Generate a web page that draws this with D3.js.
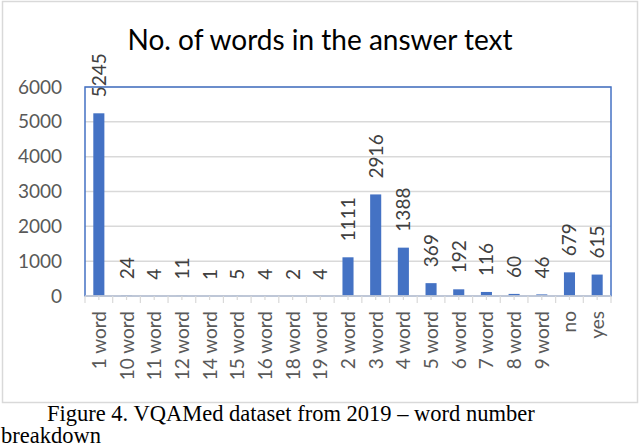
<!DOCTYPE html>
<html>
<head>
<meta charset="utf-8">
<script src="https://d3js.org/d3.v7.min.js"></script>
<style>
  body { margin: 0; background: #fff; }
  text { font-family: Lato, "Open Sans", sans-serif; }
  text.cap { font-family: "Liberation Serif", "Times New Roman", serif; }
</style>
</head>
<body>
<div id="my_dataviz"></div>
<script>
// chart data
var categories = ["1 word", "10 word", "11 word", "12 word", "14 word", "15 word", "16 word",
                  "18 word", "19 word", "2 word", "3 word", "4 word", "5 word", "6 word",
                  "7 word", "8 word", "9 word", "no", "yes"];
var counts = [5245, 24, 4, 11, 1, 5, 4, 2, 4, 1111, 2916, 1388, 369, 192, 116, 60, 46, 679, 615];
var yTicks = [0, 1000, 2000, 3000, 4000, 5000, 6000];
var title = "No. of words in the answer text";
var caption1 = "Figure 4. VQAMed dataset from 2019 \u2013 word number";
var caption2 = "breakdown";

var data = categories.map(function(c, i) { return {cat: c, val: counts[i]}; });

var W = 640, H = 447;
var margin = {top: 87, right: 29, bottom: 151, left: 85},
    width = W - margin.left - margin.right,
    height = H - margin.top - margin.bottom;

var root = d3.select("#my_dataviz").append("svg")
    .attr("width", W)
    .attr("height", H);

// outer chart frame
root.append("rect")
    .attr("x", 2.5).attr("y", 1.5)
    .attr("width", 635).attr("height", 401)
    .attr("fill", "#fff")
    .attr("stroke", "#d9d9d9")
    .attr("stroke-width", 1.5);

root.append("text")
    .attr("x", 320).attr("y", 50)
    .attr("text-anchor", "middle")
    .attr("font-size", 28)
    .attr("fill", "#000")
    .text(title);

var svg = root.append("g")
    .attr("transform", "translate(" + margin.left + "," + margin.top + ")");

var x = d3.scaleBand()
    .domain(categories)
    .range([0, width])
    .paddingInner(0)
    .paddingOuter(0);

var y = d3.scaleLinear()
    .domain([0, 6000])
    .range([height, 0]);

// gridlines
svg.append("g")
    .selectAll("line")
    .data(yTicks.slice(1))
    .enter().append("line")
    .attr("x1", 0).attr("x2", width)
    .attr("y1", function(d) { return y(d); })
    .attr("y2", function(d) { return y(d); })
    .attr("stroke", "#d9d9d9")
    .attr("stroke-width", 1.5);

// plot area border (blue)
svg.append("rect")
    .attr("x", 0).attr("y", 0)
    .attr("width", width).attr("height", height)
    .attr("fill", "none")
    .attr("stroke", "#4472c4")
    .attr("stroke-width", 1.5);

// y axis labels
var yAxis = svg.append("g")
    .call(d3.axisLeft(y).tickValues(yTicks).tickFormat(d3.format("d")).tickSize(0).tickPadding(23));
yAxis.select(".domain").remove();
yAxis.selectAll("text")
    .attr("font-size", 19)
    .attr("fill", "#595959");

// bars
var bw = x.bandwidth() * 0.4;
svg.selectAll(".bar")
    .data(data)
    .enter().append("rect")
    .attr("class", "bar")
    .attr("x", function(d) { return x(d.cat) + (x.bandwidth() - bw) / 2; })
    .attr("y", function(d) { return y(d.val); })
    .attr("width", bw)
    .attr("height", function(d) { return height - y(d.val); })
    .attr("fill", "#4472c4");

// value labels
svg.selectAll(".lbl")
    .data(data)
    .enter().append("text")
    .attr("class", "lbl")
    .attr("transform", function(d) {
        return "translate(" + (x(d.cat) + x.bandwidth() / 2 + 7) + "," + (y(d.val) - 16) + ") rotate(-90)";
    })
    .attr("font-size", 19)
    .attr("fill", "#404040")
    .text(function(d) { return d.val; });

// x axis
var xAxis = svg.append("g")
    .attr("transform", "translate(0," + height + ")");
xAxis.append("line")
    .attr("x1", 0).attr("x2", width)
    .attr("stroke", "#d9d9d9").attr("stroke-width", 1.5);
var bounds = categories.map(function(c) { return x(c); }).concat([width]);
xAxis.selectAll(".tk")
    .data(bounds)
    .enter().append("line")
    .attr("x1", function(d) { return d; }).attr("x2", function(d) { return d; })
    .attr("y1", 0).attr("y2", 7)
    .attr("stroke", "#d9d9d9").attr("stroke-width", 1.2);
xAxis.selectAll(".mtk")
    .data(categories)
    .enter().append("line")
    .attr("x1", function(d) { return x(d) + x.bandwidth() / 2; })
    .attr("x2", function(d) { return x(d) + x.bandwidth() / 2; })
    .attr("y1", 0).attr("y2", 4)
    .attr("stroke", "#d9d9d9").attr("stroke-width", 1.2);
xAxis.selectAll(".xl")
    .data(categories)
    .enter().append("text")
    .attr("transform", function(d) {
        return "translate(" + (x(d) + x.bandwidth() / 2 + 7) + ",15) rotate(-90)";
    })
    .attr("text-anchor", "end")
    .attr("font-size", 19)
    .attr("fill", "#595959")
    .text(function(d) { return d; });

// caption below the chart
root.append("text")
    .attr("class", "cap")
    .attr("x", 47).attr("y", 421)
    .attr("font-size", 22.5)
    .attr("fill", "#000")
    .text(caption1);
root.append("text")
    .attr("class", "cap")
    .attr("x", 1).attr("y", 443)
    .attr("font-size", 22.5)
    .attr("fill", "#000")
    .text(caption2);
</script>
</body>
</html>
